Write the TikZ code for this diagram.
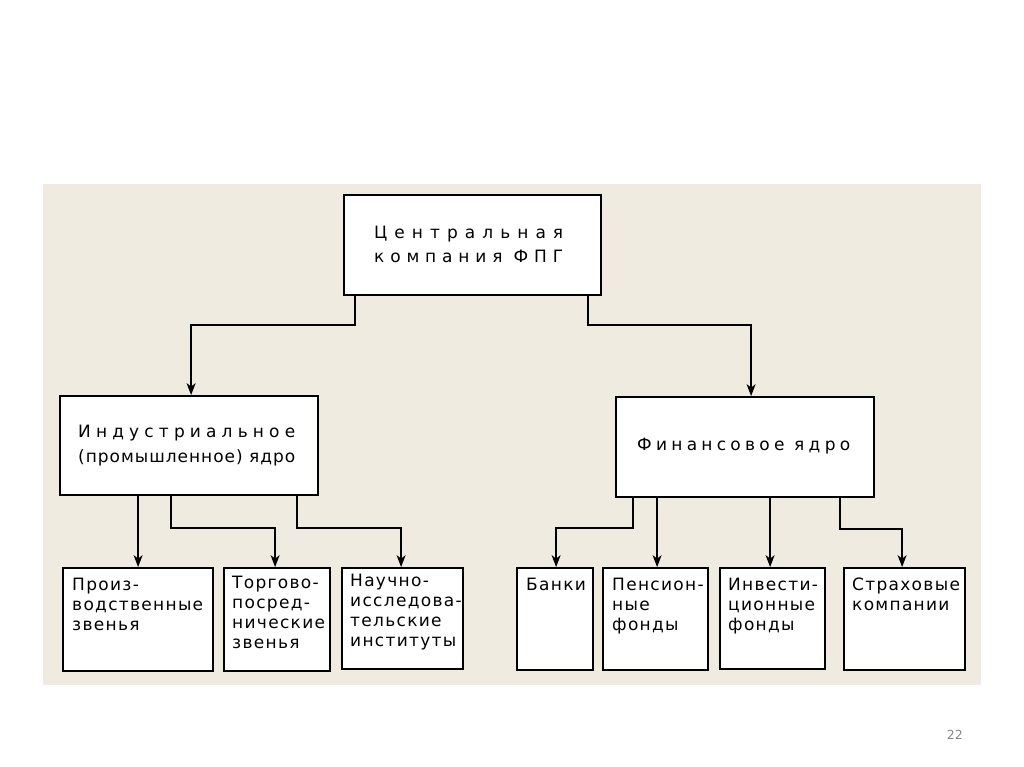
\documentclass[tikz,border=0pt]{standalone}
\usepackage{fontspec}
\setmainfont{DejaVu Sans}
\usetikzlibrary{arrows.meta}
\definecolor{panel}{RGB}{239,235,224}
\definecolor{pagenum}{RGB}{136,136,136}
\makeatletter
% #1 target ink width (pt), #2 number of gaps, #3 text
\newcommand{\fitw}[3]{\setbox0\hbox{#3}%
  \pgfmathsetmacro\lsv{((#1)-\wd0)/(#2)/\f@size*100}%
  {\addfontfeature{LetterSpace=\lsv}#3}}
% letter spacing for the small labels, measured on one reference line
\newcommand{\lblfont}{\fontsize{17}{20}\selectfont
  \setbox0\hbox{водственные}%
  \pgfmathsetmacro\lsb{(131-\wd0)/10/17*100}%
  \addfontfeature{LetterSpace=\lsb}}
\makeatother
\begin{document}
\begin{tikzpicture}[x=1pt,y=-1pt,
  box/.style={draw=black,line width=1.8pt,fill=white,inner sep=0pt},
  conn/.style={line width=1.3pt,-{Stealth[length=12pt,width=9pt,inset=3.5pt]}},
  title/.style={anchor=base west,inner sep=0pt,font=\fontsize{17}{24}\selectfont},
  lbl/.style={anchor=north west,align=left,inner sep=0pt,font=\lblfont}
]
\useasboundingbox (0,0) rectangle (1024,767);
\fill[panel] (43,184) rectangle (981,685);

% main boxes
\node[box,minimum width=257pt,minimum height=100pt] (c) at (472.5,245) {};
\node[box,minimum width=258pt,minimum height=99pt] (ind) at (189,445.5) {};
\node[box,minimum width=258pt,minimum height=100pt] (fin) at (745,447) {};

% bottom boxes
\node[box,minimum width=150pt,minimum height=103pt] (b1) at (138,619.5) {};
\node[box,minimum width=106pt,minimum height=103pt] (b2) at (277,619.5) {};
\node[box,minimum width=121pt,minimum height=101pt] (b3) at (402.5,618.5) {};
\node[box,minimum width=76pt,minimum height=102pt] (b4) at (555,619) {};
\node[box,minimum width=105pt,minimum height=102pt] (b5) at (655.5,619) {};
\node[box,minimum width=105pt,minimum height=101pt] (b6) at (772.5,618.5) {};
\node[box,minimum width=121pt,minimum height=102pt] (b7) at (904.5,619) {};

% titles
\node[title] (ct1) at (374,238) {\fitw{189}{10}{Центральная}};
\node[title] (ct2) at (374,262) {\fitw{189}{10}{компания ФПГ}};
\node[title] (it1) at (78,437) {\fitw{217}{13}{Индустриальное}};
\node[title] (it2) at (78,462) {\fitw{217}{17}{(промышленное) ядро}};
\node[title] (ft1) at (637,450) {\fitw{213}{13}{Финансовое ядро}};

% bottom labels
\node[lbl] (l1) at (72,576) {\strut Произ-\\водственные\\звенья};
\node[lbl] (l2) at (232,574) {\strut Торгово-\\посред-\\нические\\звенья};
\node[lbl] (l3) at (350,572) {\strut Научно-\\исследова-\\тельские\\институты};
\node[lbl] (l4) at (526,576) {\strut Банки};
\node[lbl] (l5) at (612,576) {\strut Пенсион-\\ные\\фонды};
\node[lbl] (l6) at (728,576) {\strut Инвести-\\ционные\\фонды};
\node[lbl] (l7) at (852,576) {\strut Страховые\\компании};

% connectors
\draw[conn] ([xshift=12pt]c.south west) -- ++(0,29) -| ([xshift=132pt]ind.north west);
\draw[conn] ([xshift=-14pt]c.south east) -- ++(0,29) -| ([xshift=136pt]fin.north west);

\draw[conn] ([xshift=79pt]ind.south west) -- ([xshift=76pt]b1.north west);
\draw[conn] ([xshift=112pt]ind.south west) -- ++(0,32) -| ([xshift=52pt]b2.north west);
\draw[conn] ([xshift=238pt]ind.south west) -- ++(0,32) -| ([xshift=60pt]b3.north west);

\draw[conn] ([xshift=18pt]fin.south west) -- ++(0,30) -| ([xshift=40pt]b4.north west);
\draw[conn] ([xshift=42pt]fin.south west) -- ([xshift=55pt]b5.north west);
\draw[conn] ([xshift=155pt]fin.south west) -- ([xshift=51pt]b6.north west);
\draw[conn] ([xshift=225pt]fin.south west) -- ++(0,31) -| ([xshift=59pt]b7.north west);

\node[anchor=base east,inner sep=0pt,text=pagenum,font=\fontsize{12.5}{15}\selectfont] (pg) at (963,739) {22};
\end{tikzpicture}
\end{document}
